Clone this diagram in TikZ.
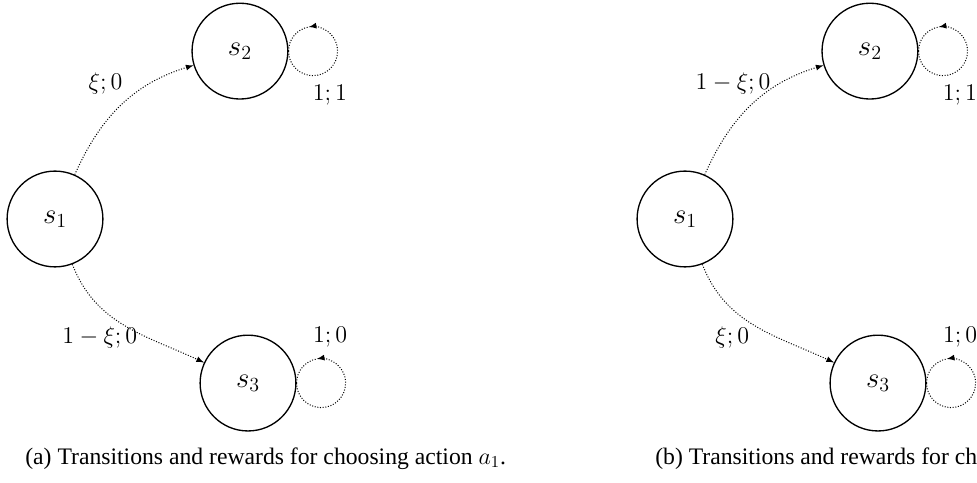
\documentclass[tikz,border=0pt]{standalone}
\usepackage{fontspec}
\setmainfont{Liberation Serif}
\usetikzlibrary{shapes}

\begin{document}
\begin{tikzpicture}[state/.style={circle, draw, thick, minimum size=2.02cm, font=\fontsize{17}{20}\selectfont},
		trans/.style={-latex, densely dotted, semithick, font=\fontsize{14}{16}\selectfont},
		loopback/.style={densely dotted, semithick},
		caption/.style={anchor=base west, inner sep=0pt, font=\fontsize{14.2}{17}\selectfont}]
				\useasboundingbox (-1.16,-5.567) rectangle (19.443,4.618);
				% (a) action a_1
				\node[state] (a1) at (0,0) {$s_1$};
				\node[state] (a2) at (3.9,3.54) {$s_2$};
				\node[state] (a3) at (4.07,-3.46) {$s_3$};
				\draw[trans] (a1) to[out=66, in=197] node[midway, xshift=-0.33cm, yshift=0.46cm] {$\xi; 0$} (a2);
				\draw[trans] (a1) to[out=-69, in=155] node[midway, xshift=-0.53cm, yshift=-0.25cm] {$1 - \xi; 0$} (a3);
				\draw[trans] (a2.east) arc (180:460:0.517cm) node[pos=0.32, xshift=0.36cm, yshift=-0.41cm] {$1; 1$};
				\draw[loopback] (a2.east) arc (180:100:0.517cm);
				\draw[trans] (a3.east) arc (180:460:0.517cm) node[pos=0.964, xshift=0.19cm, yshift=0.45cm] {$1; 0$};
				\draw[loopback] (a3.east) arc (180:100:0.517cm);
				\node[caption] (capa) at (-0.633,-5.17) {(a) Transitions and rewards for choosing action $a_1$.};
				% (b) action a_2
				\node[state] (b1) at (13.285,0) {$s_1$};
				\node[state] (b2) at (17.185,3.54) {$s_2$};
				\node[state] (b3) at (17.355,-3.46) {$s_3$};
				\draw[trans] (b1) to[out=66, in=197] node[midway, xshift=-0.38cm, yshift=0.46cm] {$1 - \xi; 0$} (b2);
				\draw[trans] (b1) to[out=-69, in=155] node[midway, xshift=-0.48cm, yshift=-0.25cm] {$\xi; 0$} (b3);
				\draw[trans] (b2.east) arc (180:460:0.517cm) node[pos=0.32, xshift=0.36cm, yshift=-0.41cm] {$1; 1$};
				\draw[loopback] (b2.east) arc (180:100:0.517cm);
				\draw[trans] (b3.east) arc (180:460:0.517cm) node[pos=0.964, xshift=0.19cm, yshift=0.45cm] {$1; 0$};
				\draw[loopback] (b3.east) arc (180:100:0.517cm);
				\node[caption] (capb) at (12.652,-5.17) {(b) Transitions and rewards for choosing action $a_2$.};
\end{tikzpicture}
\end{document}
